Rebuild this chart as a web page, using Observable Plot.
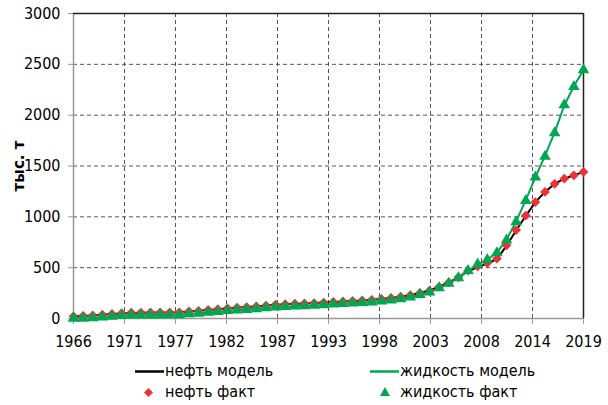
<!DOCTYPE html>
<html><head><meta charset="utf-8">
<script src="https://cdn.jsdelivr.net/npm/d3@7"></script>
<script src="https://cdn.jsdelivr.net/npm/@observablehq/plot@0.6"></script>
<style>
body{margin:0;background:#fff}
#wrap{position:relative;width:608px;height:405px;font-family:"DejaVu Sans Condensed","Liberation Sans Narrow",sans-serif;color:#000}
#chart{position:absolute;left:0;top:0}
#chart svg{display:block}
.ytitle{position:absolute;left:19px;top:166px;transform:translate(-50%,-50%) rotate(-90deg);font:bold 15px "DejaVu Sans","Liberation Sans",sans-serif;white-space:nowrap}
.lg{position:absolute;font-size:16px;line-height:16px;white-space:nowrap;transform:translateY(-50%)}
.sw{position:absolute;line-height:0}
.sw svg{display:block}
</style></head>
<body><div id="wrap"><div id="chart"></div></div>
<script>
const years = [1966,1967,1968,1969,1970,1971,1972,1973,1974,1975,1976,1977,1978,1979,1980,1981,1982,1983,1984,1985,1986,1987,1988,1989,1990,1991,1992,1993,1994,1995,1996,1997,1998,1999,2000,2001,2002,2003,2004,2005,2006,2007,2008,2009,2010,2011,2012,2013,2014,2015,2016,2017,2018,2019];
const oilFact = [22,26,30,37,45,52,57,58,59,59,60,61,69,76,85,92,100,107,112,119,127,136,141,145,148,152,157,163,168,173,178,184,192,202,214,230,252,275,312,355,405,470,512,545,588,720,870,1012,1145,1245,1325,1375,1408,1442];
const oilModel = [20,25,30,36,44,50,55,57,58,59,60,62,68,76,84,92,99,106,112,119,127,135,140,144,148,152,157,162,167,172,178,184,192,202,214,230,251,276,312,355,405,465,505,540,585,715,865,1010,1145,1245,1325,1375,1408,1442];
const liquidFact = [0,2,5,12,20,27,32,33,34,34,35,36,44,51,60,67,76,83,88,95,103,112,117,121,124,128,133,140,145,150,155,161,170,180,193,210,234,259,300,346,400,470,533,578,645,770,950,1160,1390,1595,1825,2100,2280,2445];
const liquidModel = [0,3,6,12,19,26,31,33,34,35,36,38,44,51,59,67,75,82,88,95,103,111,116,121,125,129,134,140,145,150,156,162,170,180,193,210,233,260,300,346,400,468,530,580,648,775,955,1165,1390,1600,1830,2095,2285,2445];
const yTicks = [0,500,1000,1500,2000,2500,3000];
const xTickPositions = [1966,1971.3,1976.6,1981.9,1987.2,1992.5,1997.8,2003.1,2008.4,2013.7,2019];
const xTickLabels = ["1966","1971","1977","1982","1987","1993","1998","2003","2008","2014","2019"];
const seriesNames = ["нефть модель","нефть факт","жидкость модель","жидкость факт"];
const yTitle = "тыс. т";
const colors = {black:"#000000", red:"#ec3237", green:"#00a651"};

const rows = years.map((year,i)=>({year, oilFact:oilFact[i], oilModel:oilModel[i], liquidFact:liquidFact[i], liquidModel:liquidModel[i]}));
const font = '"DejaVu Sans Condensed","Liberation Sans Narrow",sans-serif';

const chart = Plot.plot({
  width:608, height:355,
  marginTop:13, marginBottom:37, marginLeft:73, marginRight:25,
  style:{fontFamily:font, fontSize:"16px", color:"#000", background:"#fff", overflow:"visible"},
  x:{domain:[1966,2019]},
  y:{domain:[0,3000]},
  marks:[
    Plot.gridX(xTickPositions.slice(1,-1), {stroke:"#555", strokeOpacity:1, strokeDasharray:"4,3"}),
    Plot.gridY(yTicks.slice(1,-1), {stroke:"#555", strokeOpacity:1, strokeDasharray:"4,3"}),
    Plot.axisX({ticks:xTickPositions, tickFormat:(d,i)=>xTickLabels[i], tickSize:6, tickPadding:11, stroke:"#999", label:null, fontSize:16}),
    Plot.axisY({ticks:yTicks, tickFormat:d=>String(d), tickSize:5, tickPadding:8, stroke:"#999", label:null, fontSize:16}),
    Plot.ruleX([1966], {stroke:"#999", strokeWidth:1.5}),
    Plot.ruleY([0], {stroke:"#999", strokeWidth:1.5}),
    Plot.ruleY([3000], {stroke:"#222", strokeWidth:1.5}),
    Plot.ruleX([2019], {stroke:"#222", strokeWidth:1.5}),
    Plot.line(rows, {x:"year", y:"oilModel", stroke:colors.black, strokeWidth:2}),
    Plot.line(rows, {x:"year", y:"liquidModel", stroke:colors.green, strokeWidth:2}),
    Plot.dot(rows, {x:"year", y:"oilFact", symbol:"diamond2", r:4.4, fill:colors.red, stroke:null}),
    Plot.dot(rows, {x:"year", y:"liquidFact", symbol:"triangle", r:4.3, fill:colors.green, stroke:null})
  ]
});
const wrap = document.getElementById("wrap");
document.getElementById("chart").appendChild(chart);

const t = document.createElement("div"); t.className="ytitle"; t.textContent=yTitle; wrap.appendChild(t);

function sw(html, left, top, w, h){ const d=document.createElement("div"); d.className="sw"; d.style.left=left+"px"; d.style.top=top+"px"; d.innerHTML=`<svg width="${w}" height="${h}">${html}</svg>`; wrap.appendChild(d); }
function lbl(text,left,cy){ const d=document.createElement("div"); d.className="lg"; d.style.left=left+"px"; d.style.top=cy+"px"; d.textContent=text; wrap.appendChild(d); }
sw(`<line x1="0" y1="1.5" x2="29" y2="1.5" stroke="${colors.black}" stroke-width="2.5"/>`,135,369.5,29,3);
lbl(seriesNames[0],165,371);
sw(`<path d="M4.5,0L9,4.5L4.5,9L0,4.5Z" fill="${colors.red}"/>`,143.5,387.5,9,9);
lbl(seriesNames[1],165,392);
sw(`<line x1="0" y1="1.5" x2="29" y2="1.5" stroke="${colors.green}" stroke-width="2.5"/>`,370,369.5,29,3);
lbl(seriesNames[2],400,371);
sw(`<path d="M5,0L10,9L0,9Z" fill="${colors.green}"/>`,380,387,10,9);
lbl(seriesNames[3],400,392);
</script></body></html>
